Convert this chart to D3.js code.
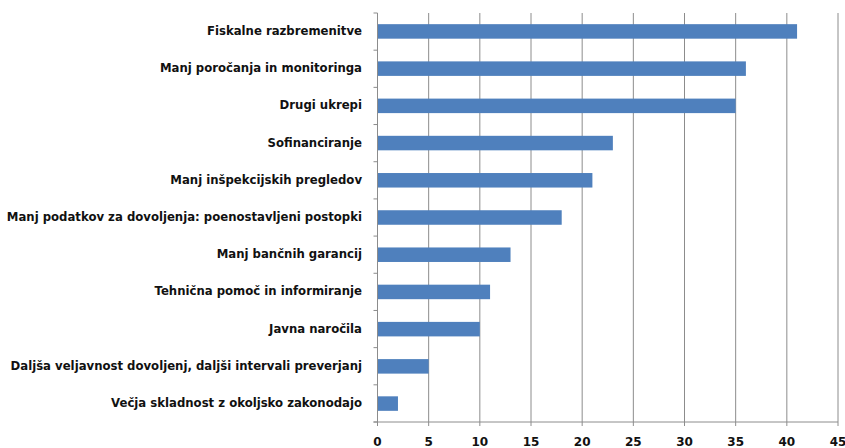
<!DOCTYPE html>
<html>
<head>
<meta charset="utf-8">
<script src="https://cdn.jsdelivr.net/npm/d3@7"></script>
<style>
  body { margin: 0; background: #fff; }
  text { font-family: "DejaVu Sans", Verdana, sans-serif; font-weight: bold; fill: #111; }
</style>
</head>
<body>
<svg id="chart" width="845" height="448"></svg>
<script>
// categories, top to bottom
var categories = [
  "Fiskalne razbremenitve",
  "Manj poročanja in monitoringa",
  "Drugi ukrepi",
  "Sofinanciranje",
  "Manj inšpekcijskih pregledov",
  "Manj podatkov za dovoljenja: poenostavljeni postopki",
  "Manj bančnih garancij",
  "Tehnična pomoč in informiranje",
  "Javna naročila",
  "Daljša veljavnost dovoljenj, daljši intervali preverjanj",
  "Večja skladnost z okoljsko zakonodajo"
];
var values = [41, 36, 35, 23, 21, 18, 13, 11, 10, 5, 2];
var xTicks = [0, 5, 10, 15, 20, 25, 30, 35, 40, 45];

var svg = d3.select("#chart");
var plotL = 377.5, plotR = 838, plotT = 13, plotB = 422;

var x = d3.scaleLinear().domain([0, 45]).range([plotL, plotR]);
var y = d3.scaleBand().domain(categories).range([plotT, plotB]).paddingInner(0.61).paddingOuter(0.3);

// vertical gridlines
svg.append("g").selectAll("line").data(xTicks.slice(1)).enter().append("line")
  .attr("x1", function(d) { return x(d); }).attr("x2", function(d) { return x(d); })
  .attr("y1", plotT).attr("y2", plotB)
  .attr("stroke", "#8c8c8c").attr("stroke-width", 1);

// bars
svg.append("g").selectAll("rect").data(values).enter().append("rect")
  .attr("x", x(0))
  .attr("y", function(d, i) { return y(categories[i]); })
  .attr("width", function(d) { return x(d) - x(0); })
  .attr("height", y.bandwidth())
  .attr("fill", "#4f80bd");

// y axis line + ticks at band boundaries
var step = (plotB - plotT) / categories.length;
var bounds = d3.range(categories.length + 1).map(function(i) { return plotT + i * step; });
svg.append("line").attr("x1", plotL).attr("x2", plotL).attr("y1", plotT).attr("y2", plotB)
  .attr("stroke", "#8c8c8c");
svg.append("g").selectAll("line").data(bounds).enter().append("line")
  .attr("x1", plotL - 4).attr("x2", plotL).attr("y1", function(d) { return d; }).attr("y2", function(d) { return d; })
  .attr("stroke", "#8c8c8c");

// x axis
svg.append("line").attr("x1", plotL - 4).attr("x2", plotR).attr("y1", plotB).attr("y2", plotB)
  .attr("stroke", "#8c8c8c");
svg.append("g").selectAll("line").data(xTicks).enter().append("line")
  .attr("x1", function(d) { return x(d); }).attr("x2", function(d) { return x(d); })
  .attr("y1", plotB).attr("y2", plotB + 4).attr("stroke", "#8c8c8c");
svg.append("g").selectAll("text").data(xTicks).enter().append("text")
  .attr("x", function(d) { return x(d); }).attr("y", 442)
  .attr("text-anchor", "middle").attr("dominant-baseline", "middle")
  .style("font-size", "12px")
  .text(function(d) { return d; });

// category labels
svg.append("g").selectAll("text").data(categories).enter().append("text")
  .attr("x", 362)
  .attr("y", function(d) { return y(d) + y.bandwidth() / 2; })
  .attr("text-anchor", "end").attr("dominant-baseline", "middle")
  .style("font-size", "11.7px")
  .text(function(d) { return d; });
</script>
</body>
</html>
